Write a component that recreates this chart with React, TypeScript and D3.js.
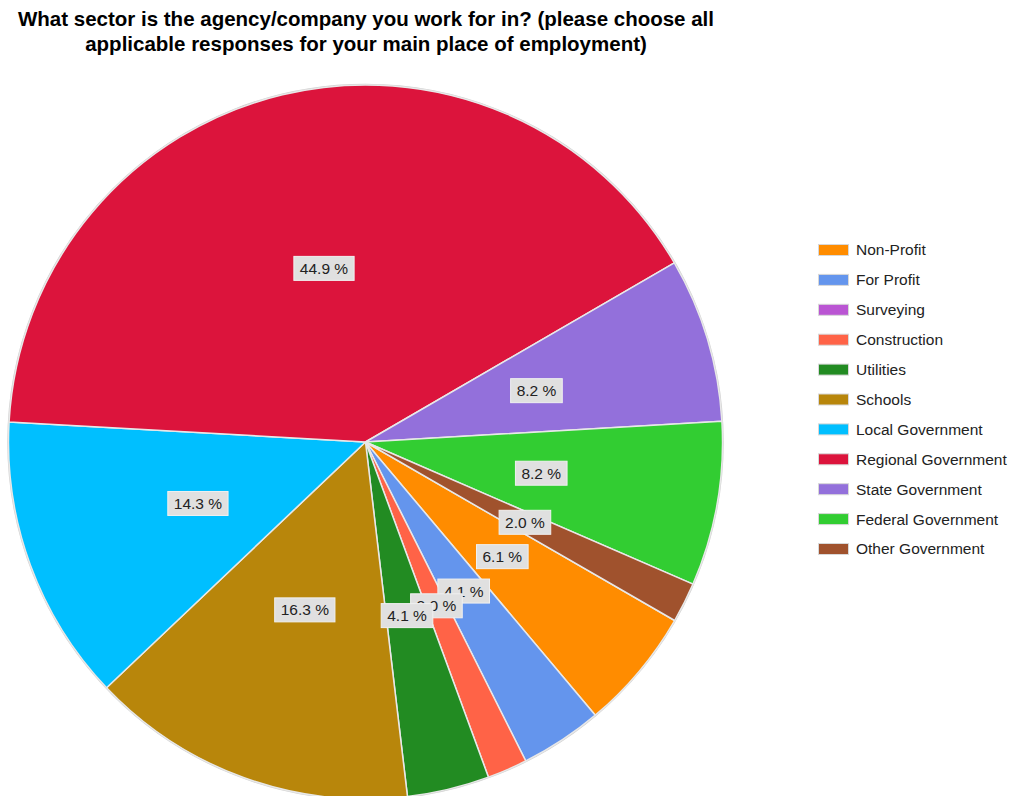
import React from "react";
import * as d3 from "d3";

const categories = [
  "Non-Profit",
  "For Profit",
  "Surveying",
  "Construction",
  "Utilities",
  "Schools",
  "Local Government",
  "Regional Government",
  "State Government",
  "Federal Government",
  "Other Government",
];
const percents = [6.1, 4.1, 0, 2.0, 4.1, 16.3, 14.3, 44.9, 8.2, 8.2, 2.0];
const colors = [
  "#FF8C00",
  "#6495ED",
  "#BA55D3",
  "#FF6347",
  "#228B22",
  "#B8860B",
  "#00BFFF",
  "#DC143C",
  "#9370DB",
  "#32CD32",
  "#A0522D",
];
const titleLines = [
  "What sector is the agency/company you work for in? (please choose all",
  "applicable responses for your main place of employment)",
];

const W = 1015;
const H = 796;
const cx = 365.5;
const cy = 442;
const R = 357;
const FONT = "Arial, 'Liberation Sans', sans-serif";
const LABEL_FS = 15.5;

function labelWidth(t: string) {
  let w = 0;
  for (const ch of t) {
    if (ch === "." || ch === " ") w += 0.278;
    else if (ch === "%") w += 0.889;
    else w += 0.556;
  }
  return w * LABEL_FS;
}

export default function App() {
  const data = categories.map((c, i) => ({ c, v: percents[i], color: colors[i] }));
  const pie = d3
    .pie<{ c: string; v: number; color: string }>()
    .value((d) => d.v)
    .sort(null)
    .startAngle((2 * Math.PI) / 3)
    .endAngle((2 * Math.PI) / 3 + 2 * Math.PI);
  const arcs = pie(data);
  const arc = d3
    .arc<d3.PieArcDatum<{ c: string; v: number; color: string }>>()
    .innerRadius(0)
    .outerRadius(R);
  const labelArc = d3
    .arc<d3.PieArcDatum<{ c: string; v: number; color: string }>>()
    .innerRadius(R * 0.5)
    .outerRadius(R * 0.5);

  const legendY = d3
    .scalePoint<string>()
    .domain(categories)
    .range([250, 549]);

  return (
    <svg width={W} height={H} style={{ position: "absolute", left: 0, top: 0 }}>
      <rect width={W} height={H} fill="#fff" />
      {titleLines.map((t, i) => (
        <text
          key={i}
          x={366}
          y={26 + i * 25}
          textAnchor="middle"
          fontFamily={FONT}
          fontWeight="bold"
          fontSize={20.5}
          fill="#000"
        >
          {t}
        </text>
      ))}
      <circle cx={cx} cy={cy} r={R + 0.5} fill="none" stroke="#d0d0d0" strokeWidth={1.5} />
      <g transform={`translate(${cx},${cy})`}>
        {arcs.map((a, i) =>
          a.data.v > 0 ? (
            <path
              key={i}
              d={arc(a) || ""}
              fill={a.data.color}
              stroke="#e8e8e8"
              strokeWidth={1.5}
              strokeLinejoin="round"
            />
          ) : null
        )}
        {arcs.map((a, i) => {
          if (a.data.v <= 0) return null;
          const [x, y] = labelArc.centroid(a);
          const t = `${a.data.v.toFixed(1)} %`;
          const w = labelWidth(t) + 12;
          const h = 24;
          return (
            <g key={"l" + i} transform={`translate(${x},${y})`}>
              <rect
                x={-w / 2}
                y={-h / 2}
                width={w}
                height={h}
                fill="#e0e0e0"
                stroke="#f0f0f0"
                strokeWidth={1}
              />
              <text
                textAnchor="middle"
                dy="0.36em"
                fontFamily={FONT}
                fontSize={LABEL_FS}
                fill="#222"
              >
                {t}
              </text>
            </g>
          );
        })}
      </g>
      {categories.map((c, i) => {
        const y = legendY(c) as number;
        return (
          <g key={"lg" + i}>
            <rect
              x={818.5}
              y={y - 5.5}
              width={30}
              height={11}
              fill={colors[i]}
              stroke="#d8d8d8"
              strokeWidth={1}
            />
            <text
              x={856}
              y={y}
              dy="0.35em"
              fontFamily={FONT}
              fontSize={15.5}
              fill="#222"
            >
              {c}
            </text>
          </g>
        );
      })}
    </svg>
  );
}
